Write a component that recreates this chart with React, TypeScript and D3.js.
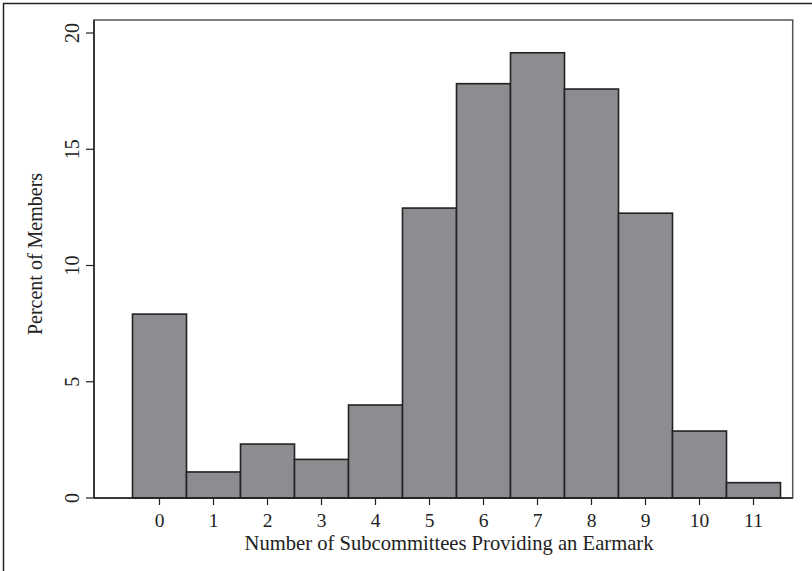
import React from "react";
import * as d3 from "d3";

const categories: number[] = [0, 1, 2, 3, 4, 5, 6, 7, 8, 9, 10, 11];
const percents: number[] = [7.91, 1.12, 2.32, 1.66, 4.0, 12.47, 17.82, 19.15, 17.59, 12.25, 2.88, 0.66];
const yTicks: number[] = [0, 5, 10, 15, 20];
const xTitle = "Number of Subcommittees Providing an Earmark";
const yTitle = "Percent of Members";

export default function App() {
  const W = 812, H = 571;
  const left = 94, right = 792.7, top = 20, bottom = 498;
  const x = d3.scaleLinear().domain([-0.5, 11.5]).range([132.5, 780.5]);
  const y = d3.scaleLinear().domain([0, 20]).range([bottom, 33]);
  const font = "'Liberation Serif', 'Times New Roman', serif";
  return (
    <svg width={W} height={H} style={{ position: "absolute", left: 0, top: 0 }} fontFamily={font}>
      <rect x={0} y={0} width={W} height={H} fill="#fff" />
      <rect x={3.5} y={3.5} width={W + 10} height={H + 10} fill="none" stroke="#222" strokeWidth={1.5} />
      <rect x={left} y={top} width={right - left} height={bottom - top} fill="none" stroke="#555" strokeWidth={1.5} />
      {categories.map((c, i) => (
        <rect key={c} x={x(c - 0.5)} y={y(percents[i])} width={x(c + 0.5) - x(c - 0.5)} height={y(0) - y(percents[i])}
          fill="#8c8d91" stroke="#222" strokeWidth={1.6} />
      ))}
      <line x1={left} x2={right} y1={bottom} y2={bottom} stroke="#222" strokeWidth={1.5} />
      <line x1={left} x2={left} y1={top} y2={bottom} stroke="#222" strokeWidth={1.5} />
      {yTicks.map(t => (
        <g key={t}>
          <line x1={86} x2={left} y1={y(t)} y2={y(t)} stroke="#222" strokeWidth={1.2} />
          <text transform={`translate(${79},${y(t)}) rotate(-90)`} textAnchor="middle" fontSize={20} fill="#222">{t}</text>
        </g>
      ))}
      {categories.map(c => (
        <g key={c}>
          <line x1={x(c)} x2={x(c)} y1={bottom} y2={bottom + 7} stroke="#222" strokeWidth={1.2} />
          <text x={x(c)} y={527} textAnchor="middle" fontSize={19.5} fill="#222">{c}</text>
        </g>
      ))}
      <text x={449} y={550} textAnchor="middle" fontSize={20.6} fill="#222">{xTitle}</text>
      <text transform={`translate(${42},${254}) rotate(-90)`} textAnchor="middle" fontSize={20} fill="#222">{yTitle}</text>
    </svg>
  );
}
